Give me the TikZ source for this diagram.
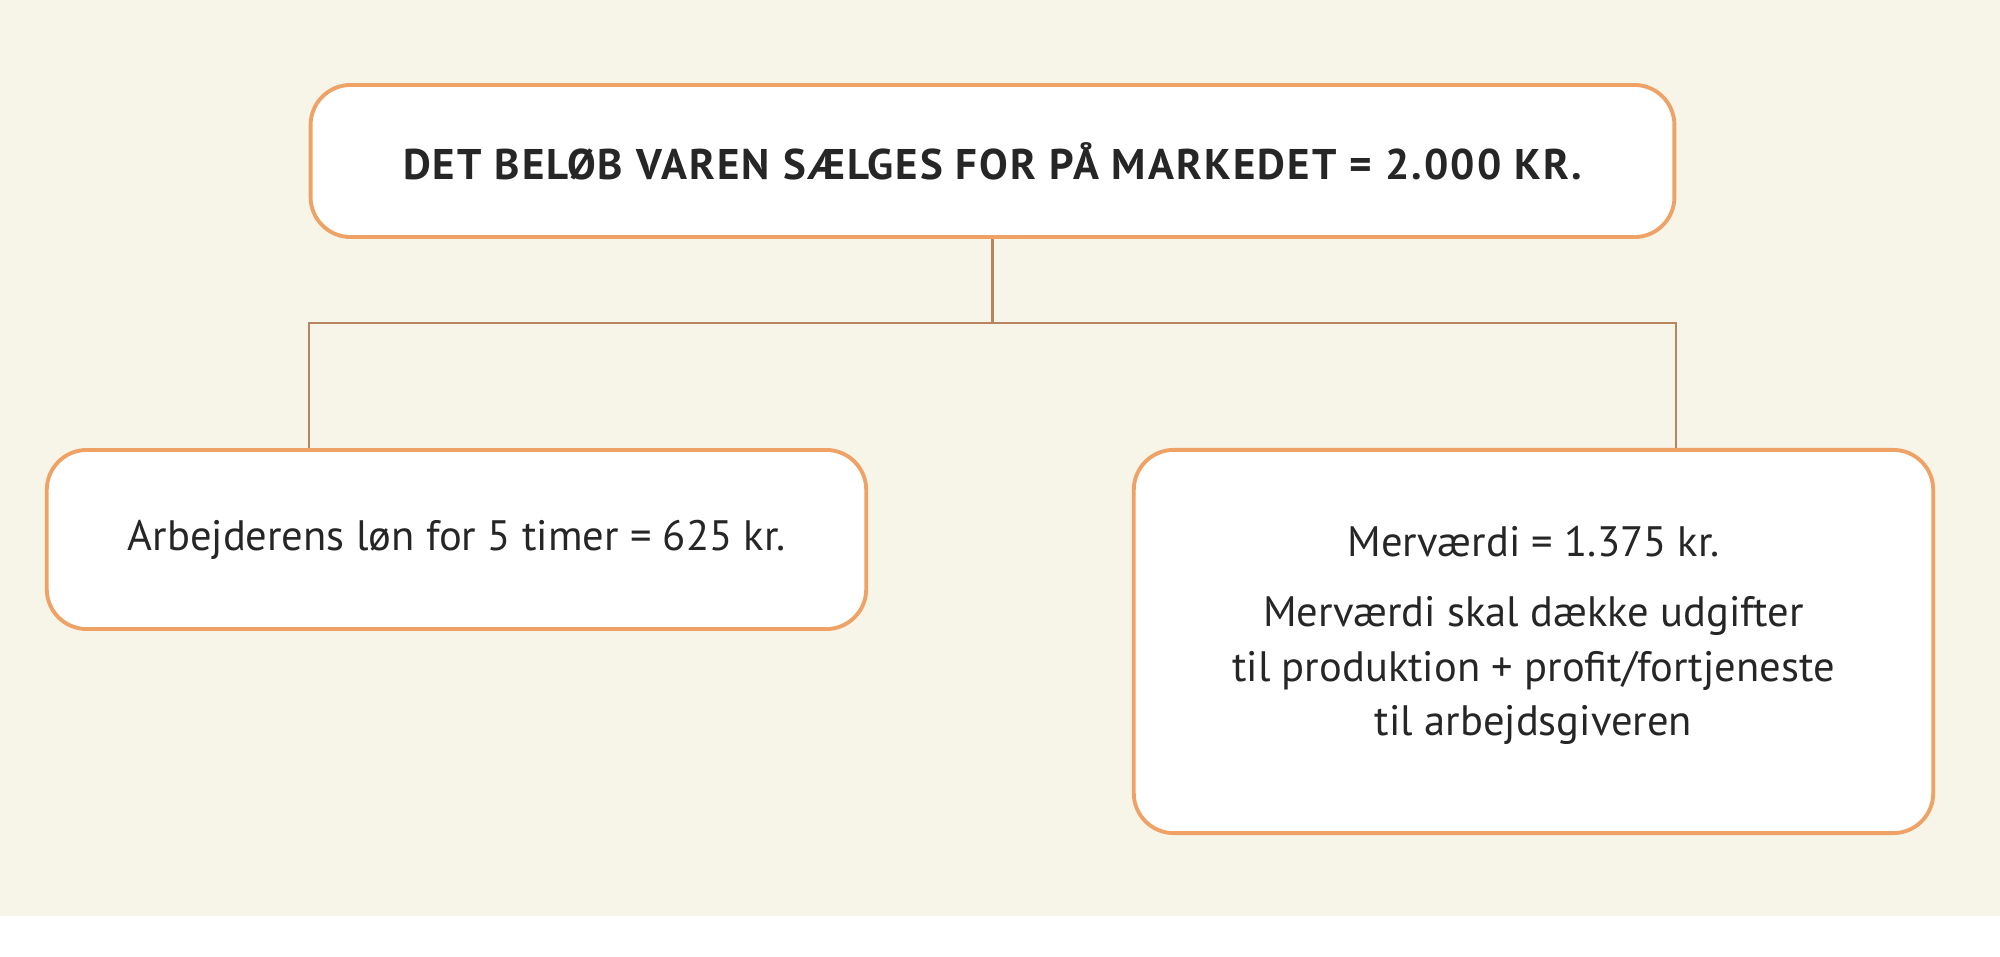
\documentclass[tikz,border=0pt]{standalone}
\usepackage{fontspec}
\setmainfont{PT Sans}
\newfontfamily\titlefont[LetterSpace=5]{PT Sans}
\definecolor{bg}{HTML}{F7F4E8}
\definecolor{rim}{HTML}{EFA266}
\definecolor{wire}{HTML}{B98462}

\begin{document}
\begin{tikzpicture}[x=0.01cm, y=0.01cm,
  box/.style={draw=rim, line width=1.1pt, fill=white, rounded corners=0.4cm, align=center, inner sep=0pt, text=black!85},
  txt/.style={font=\fontsize{12.1}{15.4}\selectfont},
  link/.style={draw=wire, line width=0.6pt}]
  \fill[white] (0,0) rectangle (2000,956);
  \fill[bg] (0,40) rectangle (2000,956);
  \node[box, minimum width=13.63cm, minimum height=1.52cm, font=\fontsize{12.2}{14}\titlefont\bfseries] (top) at (992.5,795)
    {DET BELØB VAREN SÆLGES FOR PÅ MARKEDET = 2.000 KR.};
  \node[box, txt, minimum width=8.19cm, minimum height=1.79cm] (wage) at (456.5,416.5)
    {Arbejderens løn for 5 timer = 625 kr.};
  \node[box, txt, minimum width=7.99cm, minimum height=3.83cm] (surplus) at (1533.5,314.5)
    {\raisebox{0pt}[\height][\dimexpr\depth+3.6pt\relax]{\begin{tabular}{@{}c@{}}Merværdi = 1.375 kr.\\[4.5pt] Merværdi skal dække udgifter\\ til produktion + profit/fortjeneste\\ til arbejdsgiveren\end{tabular}}};
  \coordinate (bar) at (992.5,633);
  \draw[link] (top) -- (bar)
    (wage.north -| top.west) |- (bar) -| (surplus.north -| top.east);
\end{tikzpicture}
\end{document}
